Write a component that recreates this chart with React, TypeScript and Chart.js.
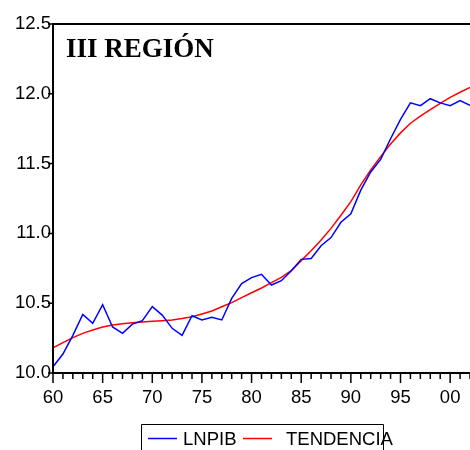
import { useEffect, useRef } from "react";
import { Chart, registerables } from "chart.js";

Chart.register(...registerables);

const years = [
  1960, 1961, 1962, 1963, 1964, 1965, 1966, 1967, 1968, 1969,
  1970, 1971, 1972, 1973, 1974, 1975, 1976, 1977, 1978, 1979,
  1980, 1981, 1982, 1983, 1984, 1985, 1986, 1987, 1988, 1989,
  1990, 1991, 1992, 1993, 1994, 1995, 1996, 1997, 1998, 1999,
  2000, 2001, 2002,
];

const lnpib = [
  10.045, 10.136, 10.27, 10.42, 10.356, 10.49, 10.33, 10.284, 10.35, 10.375,
  10.475, 10.415, 10.32, 10.27, 10.41, 10.38, 10.4, 10.38, 10.535, 10.64,
  10.683, 10.707, 10.63, 10.661, 10.733, 10.814, 10.82, 10.912, 10.97, 11.08,
  11.14, 11.31, 11.44, 11.53, 11.678, 11.817, 11.935, 11.915, 11.965, 11.935,
  11.915, 11.952, 11.918,
];

const tendencia = [
  10.18, 10.217, 10.253, 10.284, 10.308, 10.33, 10.344, 10.353, 10.36, 10.365,
  10.37, 10.375, 10.38, 10.39, 10.403, 10.423, 10.444, 10.475, 10.504, 10.54,
  10.575, 10.609, 10.647, 10.685, 10.733, 10.805, 10.876, 10.953, 11.036, 11.13,
  11.227, 11.347, 11.454, 11.55, 11.64, 11.72, 11.789, 11.84, 11.886, 11.932,
  11.975, 12.011, 12.045,
];

const yTickValues = [10.0, 10.5, 11.0, 11.5, 12.0, 12.5];
const xMajorYears = [1960, 1965, 1970, 1975, 1980, 1985, 1990, 1995, 2000];

const titleText = "III REGIÓN";
const seriesNames = ["LNPIB", "TENDENCIA"];
const seriesColors = ["#0000ff", "#ff0000"];

const SANS = '"Liberation Sans", Arial, sans-serif';
const SERIF = '"Liberation Serif", "Times New Roman", serif';

const framePlugin = {
  id: "frame",
  afterDraw(chart: any) {
    const { ctx, chartArea, scales, width } = chart;
    const { left, top, right, bottom } = chartArea;
    const xs = scales.x;
    const ys = scales.y;
    ctx.save();
    ctx.strokeStyle = "#000";
    ctx.lineCap = "butt";

    // frame
    ctx.lineWidth = 2;
    ctx.beginPath();
    ctx.moveTo(left - 1, top);
    ctx.lineTo(width, top);
    ctx.moveTo(left, top);
    ctx.lineTo(left, bottom + 1);
    ctx.moveTo(left - 1, bottom);
    ctx.lineTo(width, bottom);
    ctx.stroke();

    // y ticks
    ctx.lineWidth = 1.5;
    ctx.beginPath();
    for (const v of yTickValues) {
      const y = ys.getPixelForValue(v);
      ctx.moveTo(left - 5, y);
      ctx.lineTo(left, y);
    }
    ctx.stroke();

    // x ticks
    ctx.beginPath();
    for (const yr of years) {
      const x = xs.getPixelForValue(yr);
      const len = xMajorYears.includes(yr) ? 10 : 6;
      ctx.moveTo(x, bottom);
      ctx.lineTo(x, bottom + len);
    }
    ctx.stroke();

    // title
    ctx.fillStyle = "#000";
    ctx.font = `bold 27px ${SERIF}`;
    ctx.textAlign = "left";
    ctx.textBaseline = "alphabetic";
    ctx.fillText(titleText, 66, 57);

    // legend
    ctx.lineWidth = 1;
    ctx.strokeStyle = "#000";
    ctx.beginPath();
    ctx.moveTo(141.5, 460);
    ctx.lineTo(141.5, 424.5);
    ctx.lineTo(383.5, 424.5);
    ctx.lineTo(383.5, 460);
    ctx.stroke();

    ctx.font = `18.5px ${SANS}`;
    ctx.textBaseline = "middle";
    const legendY = 439;
    const lineStarts = [148, 243];
    const textStarts = [183, 286];
    for (let i = 0; i < seriesNames.length; i++) {
      ctx.strokeStyle = seriesColors[i];
      ctx.lineWidth = 1.5;
      ctx.beginPath();
      ctx.moveTo(lineStarts[i], legendY - 0.5);
      ctx.lineTo(lineStarts[i] + 29, legendY - 0.5);
      ctx.stroke();
      ctx.fillStyle = "#000";
      ctx.fillText(seriesNames[i], textStarts[i], legendY + 1);
    }
    ctx.restore();
  },
};

export default function App() {
  const ref = useRef<HTMLCanvasElement | null>(null);

  useEffect(() => {
    if (!ref.current) return;
    const chart = new Chart(ref.current, {
      type: "line",
      data: {
        datasets: [
          {
            label: seriesNames[0],
            data: years.map((x, i) => ({ x, y: lnpib[i] })),
            borderColor: seriesColors[0],
            borderWidth: 1.5,
            pointRadius: 0,
            tension: 0,
          },
          {
            label: seriesNames[1],
            data: years.map((x, i) => ({ x, y: tendencia[i] })),
            borderColor: seriesColors[1],
            borderWidth: 1.5,
            pointRadius: 0,
            tension: 0,
          },
        ],
      },
      options: {
        animation: false,
        responsive: false,
        devicePixelRatio: 1,
        layout: { padding: { top: 24, left: 0, right: 0, bottom: 0 } },
        plugins: {
          legend: { display: false },
          tooltip: { enabled: false },
          title: { display: false },
        },
        scales: {
          x: {
            type: "linear",
            min: 1960,
            max: 2002,
            border: { display: false },
            grid: { display: false, drawTicks: false },
            afterFit: (s: any) => {
              s.height = 77;
              s.paddingLeft = 0;
              s.paddingRight = 0;
            },
            ticks: {
              stepSize: 1,
              autoSkip: false,
              maxRotation: 0,
              padding: 14,
              color: "#000",
              font: { family: SANS, size: 18.5 },
              callback: (v: any) => {
                const n = Number(v);
                return n % 5 === 0 ? String(n % 100).padStart(2, "0") : "";
              },
            },
          },
          y: {
            min: 10,
            max: 12.5,
            border: { display: false },
            grid: { display: false, drawTicks: false },
            afterFit: (s: any) => {
              s.width = 53;
            },
            ticks: {
              stepSize: 0.5,
              padding: 2,
              color: "#000",
              font: { family: SANS, size: 18.5 },
              callback: (v: any) => Number(v).toFixed(1),
            },
          },
        },
      },
      plugins: [framePlugin],
    });
    return () => chart.destroy();
  }, []);

  return (
    <div style={{ position: "absolute", left: 0, top: 0, width: 470, height: 450, background: "#fff" }}>
      <canvas ref={ref} width={470} height={450} style={{ display: "block", width: 470, height: 450 }} />
    </div>
  );
}
